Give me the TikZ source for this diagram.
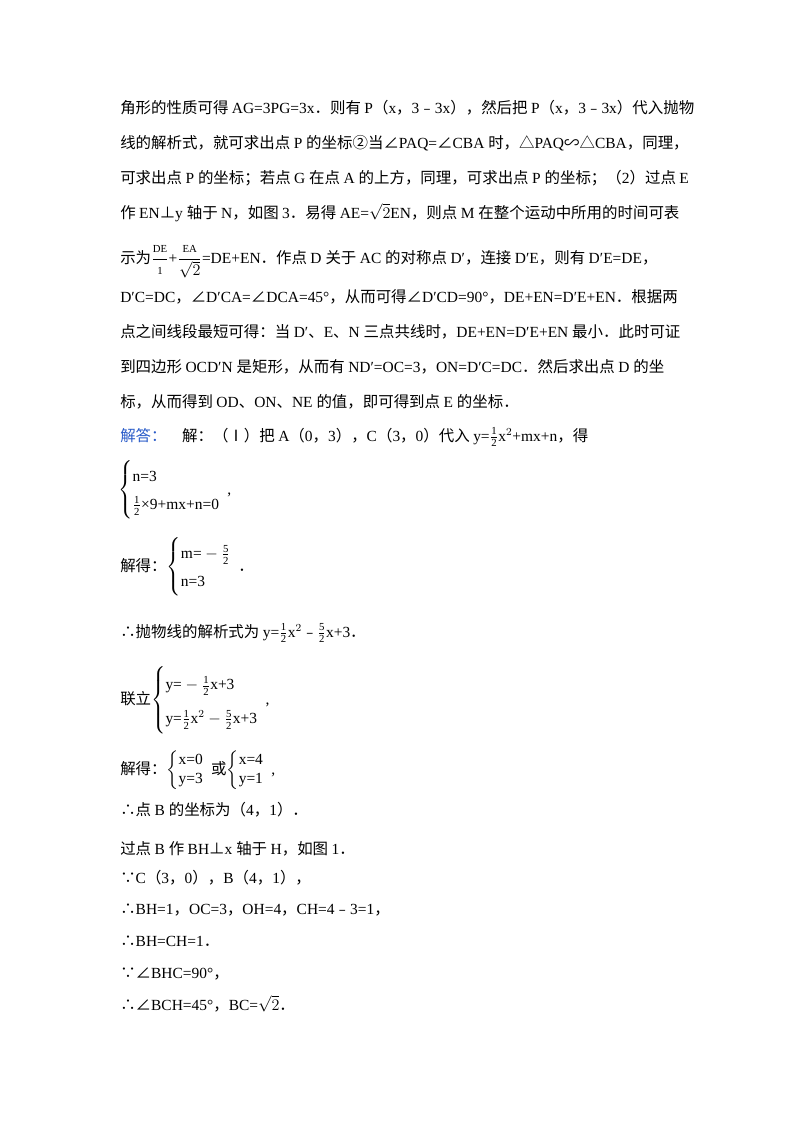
\documentclass[tikz,border=0pt]{standalone}
\usepackage{fontspec}
\usepackage{amsmath}
\setmainfont{Liberation Serif}
\newfontfamily\cjk{Noto Sans CJK SC}
\newfontfamily\latinf{Liberation Serif}
\newXeTeXintercharclass\cjkc
\newcount\cc
\def\setrange#1#2{\cc=#1\relax\loop\XeTeXcharclass\cc=\cjkc\advance\cc by 1\relax\ifnum\cc<#2\repeat}
\setrange{"4E00}{"A000}
\setrange{"3000}{"3040}
\setrange{"FF00}{"FFF0}
\setrange{"2200}{"2300}
\setrange{"25A0}{"2600}
\setrange{"2160}{"2170}
\setrange{"2460}{"2500}
\setrange{"FE50}{"FE70}
\XeTeXinterchartoks 0 \cjkc = {\cjk}
\XeTeXinterchartoks 4095 \cjkc = {\cjk}
\XeTeXinterchartoks \cjkc 0 = {\latinf}
\XeTeXinterchartoks 4095 0 = {\latinf}
\XeTeXinterchartokenstate=1
\definecolor{ans}{RGB}{40,90,200}
\tikzset{ln/.style={anchor=base west,inner sep=0pt,font=\fontsize{11.5}{14}\selectfont},
 br/.style={anchor=west,inner sep=0pt,font=\fontsize{11.5}{14}\selectfont}}
\newcommand{\fr}[2]{\genfrac{}{}{0.4pt}{}{\text{\footnotesize #1}}{\text{\footnotesize #2}}}
\begin{document}
\begin{tikzpicture}[x=0.744pt,y=-0.744pt]
\useasboundingbox (0,0) rectangle (800,1132);
\node[ln] (l1) at (120,113) {角形的性质可得 AG=3PG=3x．则有 P（x，3﹣3x），然后把 P（x，3﹣3x）代入抛物};
\node[ln] (l2) at (120,148) {线的解析式，就可求出点 P 的坐标②当∠PAQ=∠CBA 时，△PAQ∽△CBA，同理，};
\node[ln] (l3) at (120,183) {可求出点 P 的坐标；若点 G 在点 A 的上方，同理，可求出点 P 的坐标；（2）过点 E};
\node[ln] (l4) at (120,218) {作 EN⊥y 轴于 N，如图 3．易得 AE=$\sqrt{2}$EN，则点 M 在整个运动中所用的时间可表};
\node[ln] (l5) at (120,263) {示为$\displaystyle\fr{DE}{1}$+$\displaystyle\frac{\text{\footnotesize EA}}{\sqrt{2}}$=DE+EN．作点 D 关于 AC 的对称点 D′，连接 D′E，则有 D′E=DE，};
\node[ln] (l6) at (120,302) {D′C=DC，∠D′CA=∠DCA=45°，从而可得∠D′CD=90°，DE+EN=D′E+EN．根据两};
\node[ln] (l7) at (120,337) {点之间线段最短可得：当 D′、E、N 三点共线时，DE+EN=D′E+EN 最小．此时可证};
\node[ln] (l8) at (120,372) {到四边形 OCD′N 是矩形，从而有 ND′=OC=3，ON=D′C=DC．然后求出点 D 的坐};
\node[ln] (l9) at (120,407) {标，从而得到 OD、ON、NE 的值，即可得到点 E 的坐标．};
\node[ln] (l10) at (120,441) {\textcolor{ans}{解答：}\quad 解：（Ⅰ）把 A（0，3），C（3，0）代入 y=$\fr{1}{2}$x$^2$+mx+n，得};
\node[br] (s1) at (118,490) {$\left\{\renewcommand{\arraystretch}{1.5}\begin{array}{@{}l}\text{n=3}\\ \fr{1}{2}\text{×9+mx+n=0}\end{array}\right.$,};
\node[br] (s2) at (120,567) {解得：$\left\{\renewcommand{\arraystretch}{1.5}\begin{array}{@{}l}\text{m=}-\fr{5}{2}\\ \text{n=3}\end{array}\right.$．};
\node[ln] (l11) at (120,637) {∴抛物线的解析式为 y=$\fr{1}{2}$x$^2$﹣$\fr{5}{2}$x+3．};
\node[br] (s3) at (120,700) {联立$\left\{\renewcommand{\arraystretch}{1.8}\begin{array}{@{}l}\text{y=}-\fr{1}{2}\text{x+3}\\ \text{y=}\fr{1}{2}\text{x}^2-\fr{5}{2}\text{x+3}\end{array}\right.$,};
\node[br] (s4) at (120,770) {解得：$\left\{\begin{array}{@{}l}\text{x=0}\\ \text{y=3}\end{array}\right.$或$\left\{\begin{array}{@{}l}\text{x=4}\\ \text{y=1}\end{array}\right.$,};
\node[ln] (l12) at (120,815) {∴点 B 的坐标为（4，1）．};
\node[ln] (l13) at (120,854) {过点 B 作 BH⊥x 轴于 H，如图 1．};
\node[ln] (l14) at (120,883) {∵C（3，0），B（4，1），};
\node[ln] (l15) at (120,914) {∴BH=1，OC=3，OH=4，CH=4﹣3=1，};
\node[ln] (l16) at (120,946) {∴BH=CH=1．};
\node[ln] (l17) at (120,978) {∵∠BHC=90°，};
\node[ln] (l18) at (120,1010) {∴∠BCH=45°，BC=$\sqrt{2}$．};
\end{tikzpicture}
\end{document}
